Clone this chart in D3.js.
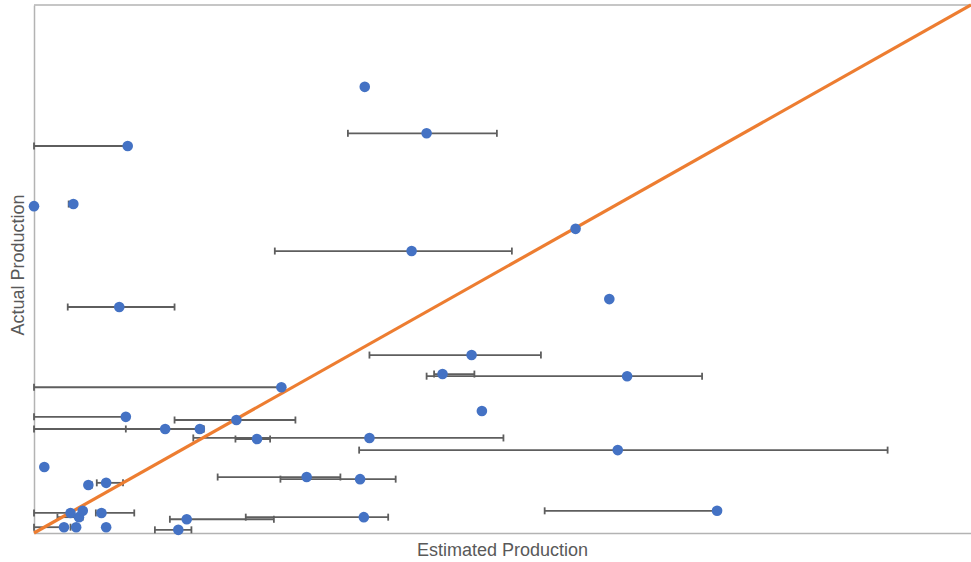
<!DOCTYPE html>
<html>
<head>
<meta charset="utf-8">
<script src="https://cdn.jsdelivr.net/npm/d3@7"></script>
<style>
  body { margin: 0; background: #fff; }
  svg { display: block; }
</style>
</head>
<body>
<script>
// values (same units on both axes, line is y = x)
const estimated = [35.3, 41.9, 10.0, 0.0, 4.2, 57.8, 40.3, 61.4, 9.1, 46.7, 43.6, 63.3, 26.4, 47.8, 9.8, 21.6, 14.0, 17.7, 23.8, 35.8, 62.3, 1.1, 29.1, 34.8, 7.7, 5.8, 72.9, 35.2, 16.3, 15.4, 3.9, 4.8, 5.2, 7.2, 3.2, 4.5, 7.7];
const actual = [84.5, 75.7, 73.3, 61.9, 62.3, 57.6, 53.4, 44.3, 42.8, 33.7, 30.1, 29.7, 27.6, 23.1, 22.0, 21.4, 19.7, 19.7, 17.8, 18.0, 15.7, 12.5, 10.6, 10.2, 9.5, 9.1, 4.2, 3.0, 2.6, 0.6, 3.8, 3.0, 4.2, 3.8, 1.1, 1.1, 1.1];
// error bar ends on the estimate (null = no error bar)
const estLow = [null, 33.5, 0.0, null, 3.7, null, 25.7, null, 3.6, 35.8, 42.7, 41.9, 0.0, null, 0.0, 15.0, 9.8, 0.0, 21.5, 17.0, 34.7, null, 19.6, 26.3, 6.7, 5.8, 54.5, 22.6, 14.5, 12.9, 0.0, 2.5, null, 6.6, 0.0, 3.9, null];
const estHigh = [null, 49.4, 10.0, null, 4.3, null, 51.0, null, 15.0, 54.1, 47.0, 71.3, 26.4, null, 9.8, 27.9, 18.1, 18.1, 25.2, 50.1, 91.1, null, 32.7, 38.6, 9.5, 6.2, 72.9, 37.8, 25.6, 16.8, 3.9, 5.2, null, 10.7, 3.2, 4.5, null];
const axisMax = 100;

const data = estimated.map((d, i) => ({
  est: d, act: actual[i], lo: estLow[i], hi: estHigh[i]
}));

var margin = { left: 34, right: 0, top: 5, bottom: 29 },
  W = 971, H = 562,
  width = W - margin.left - margin.right,
  height = H - margin.top - margin.bottom;

const svg = d3.select("body").append("svg")
  .attr("width", W).attr("height", H);

const g = svg.append("g")
  .attr("transform", "translate(" + margin.left + "," + margin.top + ")");

const x = d3.scaleLinear().domain([0, axisMax]).range([0, width]);
const y = d3.scaleLinear().domain([0, axisMax]).range([height, 0]);

// frame: top border, left and bottom axes (no ticks, no labels)
g.append("line")
  .attr("x1", 0).attr("x2", width).attr("y1", 0).attr("y2", 0)
  .attr("stroke", "#b3b3b3").attr("stroke-width", 1.5);

const xAxis = d3.axisBottom(x).ticks(0).tickSize(0).tickSizeOuter(0).tickFormat("");
const yAxis = d3.axisLeft(y).ticks(0).tickSize(0).tickSizeOuter(0).tickFormat("");
g.append("g").attr("transform", "translate(0," + height + ")").call(xAxis)
  .select(".domain").attr("stroke", "#b3b3b3").attr("stroke-width", 1.5);
g.append("g").call(yAxis)
  .select(".domain").attr("stroke", "#b3b3b3").attr("stroke-width", 1.5);

// error bars
const bars = data.filter((d) => d.lo !== null);
const cap = 3.5;
const eb = g.append("g").attr("stroke", "#5e5e5e").attr("stroke-width", 1.8).attr("fill", "none");
eb.selectAll(".bar").data(bars).enter().append("line")
  .attr("x1", (d) => x(d.lo)).attr("x2", (d) => x(d.hi))
  .attr("y1", (d) => y(d.act)).attr("y2", (d) => y(d.act));
eb.selectAll(".capl").data(bars).enter().append("line")
  .attr("x1", (d) => x(d.lo)).attr("x2", (d) => x(d.lo))
  .attr("y1", (d) => y(d.act) - cap).attr("y2", (d) => y(d.act) + cap);
eb.selectAll(".caph").data(bars).enter().append("line")
  .attr("x1", (d) => x(d.hi)).attr("x2", (d) => x(d.hi))
  .attr("y1", (d) => y(d.act) - cap).attr("y2", (d) => y(d.act) + cap);

// y = x reference line
g.append("line")
  .attr("x1", x(0)).attr("y1", y(0))
  .attr("x2", x(axisMax)).attr("y2", y(axisMax))
  .attr("stroke", "#ED7D31").attr("stroke-width", 3.2);

// points
g.selectAll("circle").data(data).enter().append("circle")
  .attr("cx", (d) => x(d.est))
  .attr("cy", (d) => y(d.act))
  .attr("r", 5.3)
  .attr("fill", "#4472C4");

// axis titles
svg.append("text")
  .attr("x", margin.left + width / 2)
  .attr("y", 556)
  .attr("text-anchor", "middle")
  .attr("font-family", "Liberation Sans, Arial, sans-serif")
  .attr("font-size", "18px")
  .attr("fill", "#595959")
  .text("Estimated Production");

svg.append("text")
  .attr("transform", "translate(24,265) rotate(-90)")
  .attr("text-anchor", "middle")
  .attr("font-family", "Liberation Sans, Arial, sans-serif")
  .attr("font-size", "18px")
  .attr("fill", "#595959")
  .text("Actual Production");
</script>
</body>
</html>
